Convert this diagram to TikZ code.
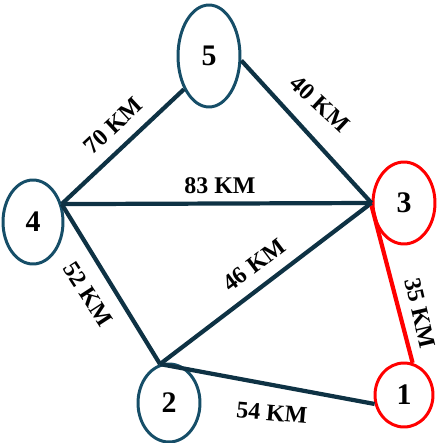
\documentclass[tikz,border=0pt]{standalone}
\usepackage{fontspec}
\setmainfont{Liberation Serif}
\usepackage{tikz}
\usetikzlibrary{shapes.geometric, positioning}

\definecolor{roadnavy}{RGB}{14, 50, 68}
\definecolor{cityring}{RGB}{22, 78, 104}
\definecolor{routered}{RGB}{255, 0, 0}

\tikzset{
  city/.style={ellipse, draw=cityring, line width=1.7pt, inner sep=0pt,
    font=\fontsize{17}{20}\selectfont\bfseries},
  hotcity/.style={city, draw=routered},
  road/.style={draw=roadnavy, line width=2.4pt},
  hotroad/.style={draw=routered, line width=2.4pt},
  dist/.style={font=\fontsize{13.6}{16}\selectfont\bfseries, inner sep=1pt}
}

\begin{document}
\begin{tikzpicture}[x=0.02cm, y=-0.02cm]
  \useasboundingbox (0,0) rectangle (439,443);

  % cities
  \node[city, minimum width=1.24cm, minimum height=2.04cm] (c5) at (209,56) {5};
  \node[city, minimum width=1.2cm, minimum height=1.68cm] (c4) at (33,222) {4};
  \node[hotcity, minimum width=1.24cm, minimum height=1.64cm] (c3) at (404,203) {3};
  \node[city, minimum width=1.24cm, minimum height=1.56cm] (c2) at (169,403) {2};
  \node[hotcity, minimum width=1.16cm, minimum height=1.28cm] (c1) at (404,395) {1};

  % roads
  \draw[road] (c4.32) -- (c5.233);
  \draw[road] (c5.-8) -- (c3.west);
  \draw[road] (c4.32) -- (c3.west);
  \draw[road] (c4.32) -- (c2.103);
  \draw[road] (c2.103) -- (c3.west);
  \draw[road] (c2.103) -- (c1.197);
  \draw[hotroad] (c3.185) -- (c1.75);

  % distances
  \node[dist, rotate=43] (d45) at (113,126) {70 KM};
  \node[dist, rotate=-43] (d53) at (320,104) {40 KM};
  \node[dist] (d43) at (220,186) {83 KM};
  \node[dist, rotate=-57] (d42) at (88,294) {52 KM};
  \node[dist, rotate=37] (d23) at (254,265) {46 KM};
  \node[dist, rotate=-77] (d31) at (420,313) {35 KM};
  \node[dist, rotate=-5] (d21) at (272,413) {54 KM};
\end{tikzpicture}
\end{document}
